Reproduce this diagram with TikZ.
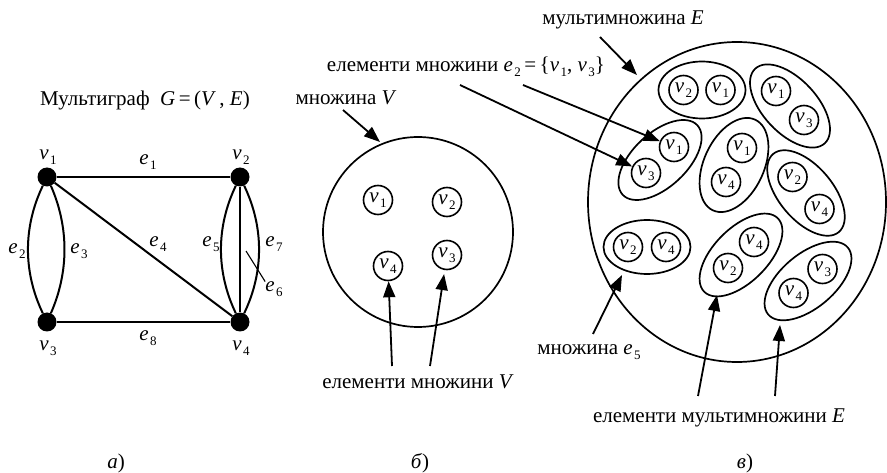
\documentclass[tikz,border=0pt]{standalone}
\usepackage{fontspec}
\setmainfont{Liberation Serif}
\usetikzlibrary{arrows.meta,shapes.geometric}
\newcommand\vx[2]{\textit{#1}\kern1.5pt\raisebox{-4.5pt}{\fontsize{13}{13}\selectfont #2}}
\begin{document}
\begin{tikzpicture}[x=1pt,y=-1pt,
  every node/.style={font=\fontsize{21}{23}\selectfont, inner sep=0pt},
  vert/.style={circle, fill=black, minimum size=19pt},
  gedge/.style={line width=2pt},
  elem/.style={circle, draw, line width=1.6pt, minimum size=29pt},
  pair/.style={ellipse, draw, line width=1.7pt},
  bigset/.style={draw, line width=1.7pt},
  arr/.style={line width=1.8pt, -{Triangle[length=16pt,width=12pt]}},
  lead/.style={line width=1.1pt}]
\useasboundingbox (0,0) rectangle (887,473);

% ---------- a) multigraph ----------
\node (title) at (145,100) {Мультиграф\ \ \textit{G}\,=\,(\textit{V}\,,\ \textit{E})};
\node[vert] (v1) at (47,177) {};
\node[vert] (v2) at (240,177) {};
\node[vert] (v3) at (47,322) {};
\node[vert] (v4) at (240,322) {};
\draw[gedge] (v1) -- (v2);
\draw[gedge] (v3) -- (v4);
\draw[gedge] (v1) -- (v4);
\draw[gedge] (v2) -- (v4);
\draw[gedge] (v1) .. controls +(-24,50) and +(-24,-50) .. (v3);
\draw[gedge] (v1) .. controls +(22,50) and +(22,-50) .. (v3);
\draw[gedge] (v2) .. controls +(-24,50) and +(-24,-50) .. (v4);
\draw[gedge] (v2) .. controls +(24,50) and +(24,-50) .. (v4);
\node (lv1) at (48,157) {\vx{v}{1}};
\node (lv2) at (241,157) {\vx{v}{2}};
\node (lv3) at (48,348) {\vx{v}{3}};
\node (lv4) at (241,348) {\vx{v}{4}};
\node (le1) at (148,162) {\vx{e}{1}};
\node (le2) at (17,251) {\vx{e}{2}};
\node (le3) at (79,251) {\vx{e}{3}};
\node (le4) at (158,244) {\vx{e}{4}};
\node (le5) at (211,244) {\vx{e}{5}};
\node (le7) at (274,244) {\vx{e}{7}};
\node (le6) at (274,289) {\vx{e}{6}};
\node (le8) at (148,338) {\vx{e}{8}};
\coordinate (e6pt) at (246,251);
\draw[lead] (e6pt) -- (le6.north west);
\node (capa) at (116,463) {\textit{а})};

% ---------- б) set V ----------
\node[circle, bigset, minimum size=190pt] (Vset) at (418,232) {};
\node[elem] (m1) at (378,200) {\vx{v}{1}};
\node[elem] (m2) at (447,202) {\vx{v}{2}};
\node[elem] (m3) at (447,255) {\vx{v}{3}};
\node[elem] (m4) at (388,266) {\vx{v}{4}};
\node (lblV) at (346,98) {множина \textit{V}};
\coordinate (aVs) at (343,110);
\coordinate (aVt) at (380,142);
\draw[arr] (aVs) -- (aVt);
\node (lblelV) at (418,382) {елементи множини \textit{V}};
\coordinate (s4) at (392,366);
\coordinate (s3) at (430,366);
\draw[arr] (s4) -- (m4);
\draw[arr, shorten >=4pt] (s3) -- (m3);
\node (capb) at (420,463) {\textit{б})};

% ---------- в) multiset E ----------
\node[ellipse, bigset, minimum width=298pt, minimum height=320pt] (Eset) at (737,202) {};
% pairs
\node[pair, minimum width=87pt, minimum height=57pt] (p1) at (702,90) {};
\node[elem] (p1a) at (683.5,90) {\vx{v}{2}};
\node[elem] (p1b) at (720.5,90) {\vx{v}{1}};
\node[pair, minimum width=102pt, minimum height=54pt, rotate=-47] (p2) at (790,106) {};
\node[elem] (p2a) at (776,91) {\vx{v}{1}};
\node[elem] (p2b) at (804,120) {\vx{v}{3}};
\node[pair, minimum width=102pt, minimum height=54pt, rotate=43] (p3) at (660,160) {};
\node[elem] (p3a) at (674,147) {\vx{v}{1}};
\node[elem] (p3b) at (646,173) {\vx{v}{3}};
\node[pair, minimum width=100pt, minimum height=60pt, rotate=65] (p4) at (734,165) {};
\node[elem] (p4a) at (742,148) {\vx{v}{1}};
\node[elem] (p4b) at (726,182) {\vx{v}{4}};
\node[pair, minimum width=102pt, minimum height=54pt, rotate=-50] (p5) at (806,193) {};
\node[elem] (p5a) at (792.5,177) {\vx{v}{2}};
\node[elem] (p5b) at (819.5,209) {\vx{v}{4}};
\node[pair, minimum width=87pt, minimum height=54pt] (p6) at (647,247) {};
\node[elem] (p6a) at (628,247) {\vx{v}{2}};
\node[elem] (p6b) at (666,247) {\vx{v}{4}};
\node[pair, minimum width=104pt, minimum height=54pt, rotate=45] (p7) at (741,255) {};
\node[elem] (p7a) at (754,242) {\vx{v}{4}};
\node[elem] (p7b) at (728,268) {\vx{v}{2}};
\node[pair, minimum width=104pt, minimum height=54pt, rotate=40] (p8) at (808,281) {};
\node[elem] (p8a) at (822.5,269) {\vx{v}{3}};
\node[elem] (p8b) at (793.5,293) {\vx{v}{4}};
% labels and arrows
\node (lblE) at (623,20) {мультимножина \textit{E}};
\coordinate (aEs) at (600,37);
\coordinate (aEt) at (637,75);
\draw[arr] (aEs) -- (aEt);
\node (lble2) at (466,67) {елементи множини \vx{e}{2}\,=\,\{\vx{v}{1}, \vx{v}{3}\}};
\coordinate (se3) at (460,85);
\coordinate (se1) at (523,85);
\draw[arr] (se3) -- (p3b);
\draw[arr] (se1) -- (p3a);
\node (lble5) at (589,352) {множина \vx{e}{5}};
\coordinate (a5s) at (593,334);
\coordinate (a5t) at (622,275);
\draw[arr] (a5s) -- (a5t);
\node (lblelE) at (719,418) {елементи мультимножини \textit{E}};
\coordinate (a7s) at (698,396);
\coordinate (a7t) at (717,295);
\coordinate (a8s) at (775,396);
\coordinate (a8t) at (780,325);
\draw[arr] (a7s) -- (a7t);
\draw[arr] (a8s) -- (a8t);
\node (capc) at (745,463) {\textit{в})};
\end{tikzpicture}
\end{document}
